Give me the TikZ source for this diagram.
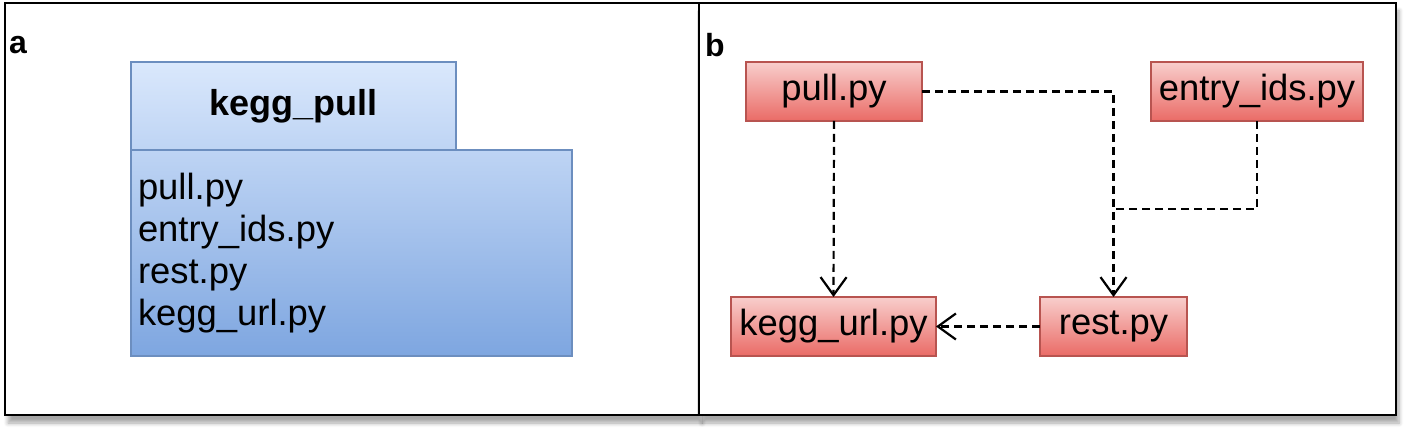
\documentclass[tikz,border=0pt]{standalone}
\usepackage{fontspec}
\setmainfont{Liberation Sans}
\usetikzlibrary{arrows.meta,shadows.blur}
\definecolor{bluetop}{HTML}{DAE8FC}
\definecolor{bluemid}{HTML}{BED4F4}
\definecolor{bluebot}{HTML}{7EA6E0}
\definecolor{blueline}{HTML}{6C8EBF}
\definecolor{redtop}{HTML}{F8CECC}
\definecolor{redbot}{HTML}{EA6B66}
\definecolor{redline}{HTML}{B85450}
\tikzset{
  panel/.style={draw=black, line width=1pt, fill=white, inner sep=0pt, outer sep=0pt,
    blur shadow={shadow xshift=1.5pt, shadow yshift=-4pt, shadow blur steps=6, shadow opacity=35}},
  panellabel/.style={font=\fontsize{16}{18}\selectfont\bfseries, inner sep=0pt},
  filebox/.style={draw=redline, line width=0.6pt, top color=redtop, bottom color=redbot,
    minimum height=29.5pt, inner sep=0pt, outer sep=0pt, font=\fontsize{18.2}{21}\selectfont},
  dep/.style={dashed, dash pattern=on 4pt off 2.5pt, line width=1.1pt,
    -{Straight Barb[length=9pt,width=13pt,line width=1.1pt]}},
  depline/.style={dashed, dash pattern=on 4pt off 2.5pt, line width=1.1pt}
}
\begin{document}
\begin{tikzpicture}[x=0.5pt,y=-0.5pt]
\useasboundingbox (0,0) rectangle (1416,437);
% panels
\node[panel, minimum width=347pt, minimum height=206pt] (panelA) at (352,209) {};
\node[panel, minimum width=348.5pt, minimum height=206pt] (panelB) at (1047.5,209) {};
\node[panellabel] (la) at (18,45) {a};
\node[panellabel] (lb) at (715,45) {b};
% panel a: package
\node[draw=blueline, line width=0.6pt, top color=bluetop, bottom color=bluemid,
  minimum width=162.5pt, minimum height=44pt, inner sep=0pt, outer sep=0pt,
  font=\fontsize{18}{21}\selectfont\bfseries] (tab) at (293.5,106) {kegg\_pull};
\node[draw=blueline, line width=0.6pt, top color=bluemid, bottom color=bluebot,
  minimum height=103pt, text width=213.5pt, inner xsep=3.5pt, inner ysep=0pt, outer sep=0pt,
  align=left, font=\fontsize{18.2}{21}\selectfont] (body) at (351.5,253)
  {pull.py\\entry\_ids.py\\rest.py\\kegg\_url.py};
% panel b: modules
\node[filebox, minimum width=88pt] (pull) at (834,91.5) {pull.py};
\node[filebox, minimum width=106pt] (entry) at (1257,91.5) {entry\_ids.py};
\node[filebox, minimum width=102.5pt] (url) at (833.5,326.5) {kegg\_url.py};
\node[filebox, minimum width=73.5pt] (rest) at (1113.5,326.5) {rest.py};
\coordinate (join) at (1113.5,209);
% connectors
\draw[dep] (pull.south) -- (url.north);
\draw[dep] (pull.east) -| (rest.north);
\draw[depline] (entry.south) |- (join);
\draw[dep] (rest.west) -- (url.east);
\end{tikzpicture}
\end{document}
